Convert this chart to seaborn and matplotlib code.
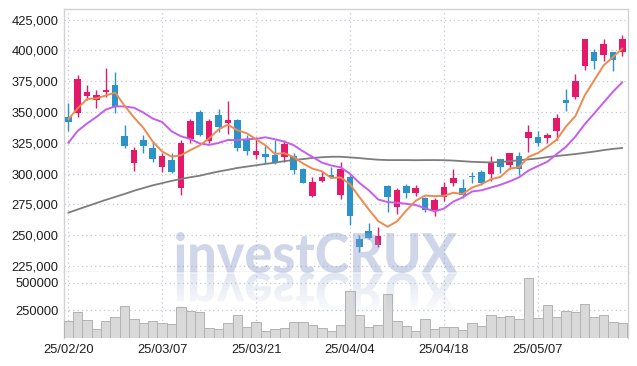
import numpy as np
import seaborn as sns
import matplotlib
matplotlib.use("Agg")
import matplotlib.pyplot as plt
from matplotlib.textpath import TextPath
from matplotlib.patches import PathPatch, Rectangle
from matplotlib.font_manager import FontProperties
from matplotlib.transforms import Affine2D

# trading days shown on the chart
dates = ['25/02/20', '25/02/21', '25/02/24', '25/02/25', '25/02/26', '25/02/27', '25/02/28',
         '25/03/04', '25/03/05', '25/03/06', '25/03/07', '25/03/10', '25/03/11', '25/03/12',
         '25/03/13', '25/03/14', '25/03/17', '25/03/18', '25/03/19', '25/03/20', '25/03/21',
         '25/03/24', '25/03/25', '25/03/26', '25/03/27', '25/03/28', '25/03/31', '25/04/01',
         '25/04/02', '25/04/03', '25/04/04', '25/04/07', '25/04/08', '25/04/09', '25/04/10',
         '25/04/11', '25/04/14', '25/04/15', '25/04/16', '25/04/17', '25/04/18', '25/04/21',
         '25/04/22', '25/04/23', '25/04/24', '25/04/25', '25/04/28', '25/04/29', '25/04/30',
         '25/05/02', '25/05/07', '25/05/08', '25/05/09', '25/05/12', '25/05/13', '25/05/14',
         '25/05/15', '25/05/16', '25/05/19', '25/05/20']

open_ = [345500, 349000, 363000, 360000, 366500, 372000, 330500, 308500, 327000, 320500,
         305500, 311000, 288000, 328000, 350000, 326500, 347500, 341000, 343500, 327000,
         315000, 316000, 315000, 313000, 314000, 304000, 282000, 294000, 299000, 282500,
         297500, 246500, 253500, 242000, 289500, 273000, 289500, 284500, 280000, 270000,
         281000, 292000, 288000, 298000, 301000, 299500, 311500, 307000, 314000, 328500,
         329500, 329000, 334500, 359500, 362500, 387500, 398500, 396500, 398500, 399000]
high = [357000, 380000, 372000, 368000, 386000, 382500, 339500, 321500, 331000, 324500,
        316500, 316500, 327000, 344000, 351500, 344000, 352000, 358500, 344000, 331000,
        330000, 322000, 327000, 327500, 316500, 304500, 297000, 301500, 305500, 309500,
        298500, 250000, 259500, 256500, 290500, 288000, 291500, 290500, 281000, 280000,
        293000, 303500, 295500, 301500, 302500, 314000, 311500, 317000, 317500, 339500,
        334500, 333000, 348500, 369000, 380500, 409500, 401000, 409000, 399000, 412500]
low = [334500, 345500, 359500, 353000, 362500, 349500, 320500, 302000, 316500, 309500,
       301000, 300500, 282500, 324500, 330500, 325000, 334000, 332000, 318500, 315000,
       311500, 308500, 307500, 309000, 300000, 292000, 281000, 293000, 296500, 279000,
       258000, 236500, 246500, 240000, 269000, 267000, 280000, 281500, 268500, 265500,
       277500, 289500, 280000, 292000, 290500, 294000, 300500, 304000, 299000, 317500,
       322500, 324500, 327000, 351000, 360500, 384000, 385000, 391500, 383500, 395500]
close = [342000, 376500, 366000, 364000, 368000, 354000, 322500, 319000, 322000, 312000,
         314000, 301500, 324500, 342500, 331500, 342500, 338000, 343500, 321000, 318500,
         318500, 313500, 308500, 324000, 302500, 292500, 293000, 297500, 297000, 304000,
         265500, 240000, 248000, 249500, 281000, 287000, 284000, 288000, 270500, 278500,
         289000, 296000, 282500, 297000, 292000, 309000, 305500, 316500, 303500, 333500,
         324500, 331000, 345000, 357500, 375000, 409000, 391500, 405000, 392000, 409500]

ma5 = [344000, 352800, 360500, 361000, 363300, 365700, 355000, 345500, 337100, 325900,
       317900, 313700, 314800, 319000, 322800, 328500, 335800, 339600, 335200, 332700,
       327800, 322900, 315900, 316500, 313300, 308100, 304000, 301800, 296400, 296800,
       291400, 280800, 270900, 261400, 256800, 261100, 270000, 277900, 282100, 281600,
       281900, 284400, 283300, 288600, 291300, 295300, 297200, 303900, 305200, 313500,
       316600, 321700, 327400, 338200, 346600, 363500, 375600, 387700, 394600, 401500]
ma10 = [324800, 334500, 340600, 345900, 351900, 354500, 354400, 353400, 349500, 344600,
        341800, 334300, 330200, 328000, 324400, 323200, 324800, 327200, 327100, 327800,
        328200, 329400, 327800, 325900, 323000, 318000, 313500, 308900, 306500, 305000,
        299800, 292400, 286400, 278900, 276800, 276300, 275400, 274400, 271800, 269200,
        271500, 277200, 280600, 285400, 286400, 288600, 290800, 293600, 296900, 302400,
        306000, 309500, 315700, 321700, 330000, 340100, 348700, 357600, 366400, 374100]
ma60 = [268200, 270800, 273400, 276000, 278600, 281000, 283400, 286000, 288200, 290400,
        292200, 294000, 295600, 297000, 298200, 300000, 301600, 303000, 304500, 305600,
        306700, 307800, 308800, 310000, 311000, 311700, 312600, 313200, 313600, 313600,
        313100, 312500, 311800, 311200, 310900, 310900, 310900, 310800, 310900, 310900,
        310800, 310500, 310000, 309500, 309200, 309000, 309300, 310000, 310800, 311500,
        312200, 313300, 314200, 315000, 315800, 316800, 317800, 319000, 320000, 320700]

volume = [153000, 231000, 159000, 78000, 153000, 186000, 285000, 168000, 135000, 153000,
          135000, 126000, 279000, 243000, 231000, 87000, 78000, 132000, 204000, 96000,
          141000, 63000, 78000, 87000, 141000, 141000, 114000, 87000, 60000, 114000,
          420000, 204000, 96000, 114000, 393000, 150000, 105000, 60000, 168000, 78000,
          96000, 96000, 69000, 132000, 105000, 204000, 186000, 195000, 168000, 537000,
          177000, 294000, 186000, 240000, 231000, 303000, 186000, 204000, 141000, 132000]

price_ticks = [225000, 250000, 275000, 300000, 325000, 350000, 375000, 400000, 425000]
vol_ticks = [250000, 500000]

UP, DOWN = '#e5196a', '#2b93c8'
GRID = '#c3c9d8'
FRAME = '#d2d2d2'
TXT = '#1e1e1e'

sns.set_style('white')
plt.rcParams['font.family'] = ['Liberation Sans', 'DejaVu Sans']

W, H = 637, 366
fig = plt.figure(figsize=(W / 100, H / 100), dpi=100)
ax = fig.add_axes([64 / W, (H - 272.3) / H, (628 - 64) / W, (272.3 - 9.3) / H])
axv = fig.add_axes([64 / W, (H - 338) / H, (628 - 64) / W, (338 - 272.3) / H])

idx = np.arange(len(dates))
o = np.array(open_)
c = np.array(close)
up = c >= o
colors = [UP if u else DOWN for u in up]

# candles
ax.vlines(idx, low, high, colors=colors, lw=1.0, zorder=3)
ax.bar(idx, np.abs(c - o), bottom=np.minimum(o, c), width=0.7, color=colors,
       linewidth=0, zorder=4)

# moving averages
sns.lineplot(x=idx, y=ma60, ax=ax, color='#7d7d7d', lw=1.3, zorder=5)
sns.lineplot(x=idx, y=ma10, ax=ax, color='#c75cf0', lw=1.4, zorder=6)
sns.lineplot(x=idx, y=ma5, ax=ax, color='#ef8a4f', lw=1.4, zorder=7)

# volume
sns.barplot(x=idx, y=volume, ax=axv, color='#d9d9d9', edgecolor='#b3b3b3',
            linewidth=0.7, width=1.0, saturation=1, errorbar=None, zorder=3)

for a in (ax, axv):
    a.set_xlim(-0.45, 59.6)
    a.set_xticks(idx[::10])
    a.grid(True, color=GRID, linestyle=(0, (1, 2.5)), lw=0.9)
    a.set_axisbelow(True)
    a.tick_params(length=0, labelsize=9.3, colors=TXT)
    a.set_xlabel('')
    a.set_ylabel('')
    for s in ('left', 'right', 'top', 'bottom'):
        a.spines[s].set_color(FRAME)
        a.spines[s].set_linewidth(1.0)

ax.set_ylim(219800, 433300)
ax.set_yticks(price_ticks)
ax.set_yticklabels([f'{v:,}' for v in price_ticks])
ax.set_xticklabels([])
ax.tick_params(axis='y', pad=4)

axv.set_ylim(0, 592000)
axv.set_yticks(vol_ticks)
axv.set_yticklabels([str(v) for v in vol_ticks])
axv.set_xticklabels(dates[::10])
axv.tick_params(axis='y', pad=4)
axv.tick_params(axis='x', pad=4)
axv.spines['top'].set_visible(False)
axv.spines['bottom'].set_visible(False)

# watermark with a fading reflection
fp = FontProperties(family=['Lato', 'Roboto', 'Liberation Sans'], weight='black')
tp = TextPath((0, 0), 'investCRUX', size=100, prop=fp)
bb = tp.get_extents()
x0, x1 = 176, 457
base, top = H - 273, H - 232
sx = (x1 - x0) / bb.width
sy = (top - base) / bb.height
to_fig = Affine2D().scale(1 / W, 1 / H) + fig.transFigure

main_path = Affine2D().translate(-bb.x0, -bb.y0).scale(sx, sy).translate(x0, base).transform_path(tp)
fig.add_artist(PathPatch(main_path, transform=to_fig, facecolor='#8a9ac8',
                         edgecolor='none', alpha=0.4, zorder=10))

refl_path = Affine2D().translate(-bb.x0, -bb.y0).scale(sx, -sy).translate(x0, base).transform_path(tp)
nb = 12
depth = top - base
for k in range(nb):
    y_hi = base - depth * k / nb
    y_lo = base - depth * (k + 1) / nb
    clip = Rectangle((0, y_lo / H), 1, (y_hi - y_lo) / H, transform=fig.transFigure)
    p = PathPatch(refl_path, transform=to_fig, facecolor='#8a9ac8', edgecolor='none',
                  alpha=0.25 * (1 - k / nb), zorder=10)
    p.set_clip_path(clip)
    fig.add_artist(p)

fig.savefig('out.png', dpi=100)
